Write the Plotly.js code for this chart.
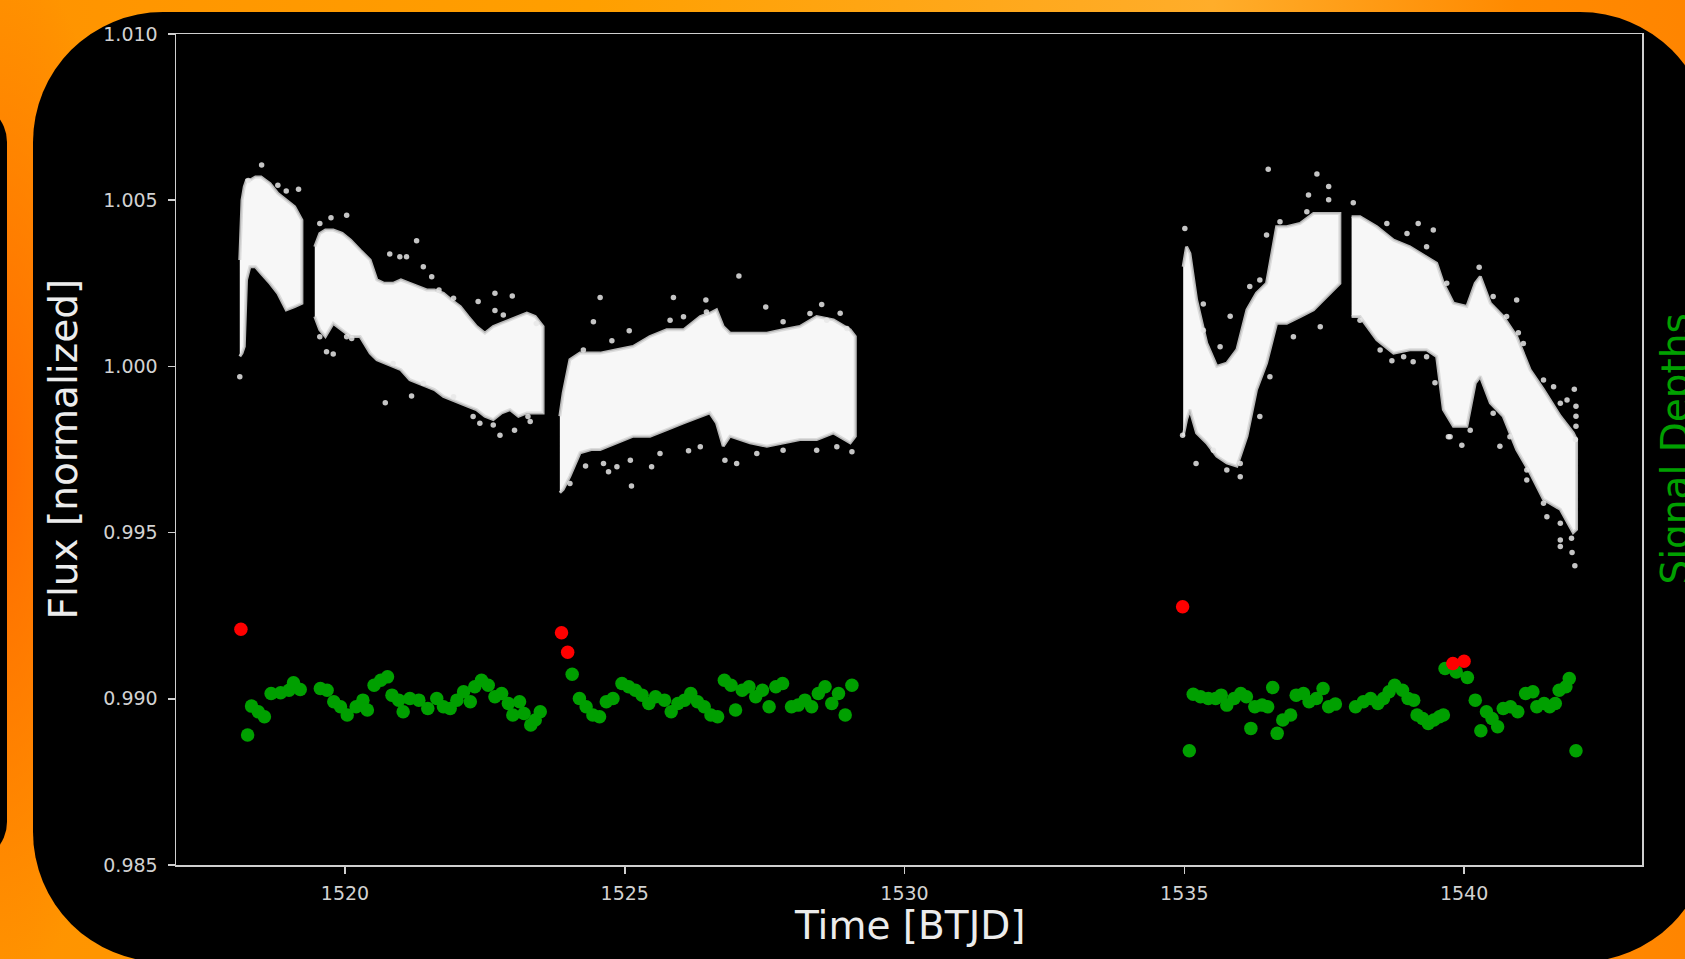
<!DOCTYPE html>
<html>
<head>
<meta charset="utf-8">
<script src="https://cdn.plot.ly/plotly-3.0.1.min.js"></script>
<style>
  html, body { margin:0; padding:0; }
  body {
    width:1685px; height:959px; overflow:hidden; position:relative;
    background:
      radial-gradient(ellipse 140px 520px at 0px 470px, #ff6c00, rgba(255,108,0,0)),
      linear-gradient(90deg, #ff9300 0%, #ff9f00 35%, #ffad2a 72%, #ff8a00 90%, #ff8500 100%);
  }
  #leftstrip { position:absolute; left:-100px; top:102px; width:107px; height:760px; background:#000; border-radius:40px; }
  #panel { position:absolute; left:33px; top:12px; width:1677px; height:950px; background:#000; border-radius:130px; }
  #chart { position:absolute; left:0; top:0; width:1685px; height:959px; }
</style>
</head>
<body>
<div id="leftstrip"></div>
<div id="panel"></div>
<div id="chart"></div>
<script>
// ---------- light-curve envelope per observing segment ----------
const seg1Time  = [1518.12, 1518.16, 1518.20, 1518.24, 1518.30, 1518.40, 1518.50, 1518.66, 1518.80, 1518.95, 1519.10, 1519.23];
const seg1Upper = [1.0032, 1.0050, 1.0054, 1.0056, 1.0056, 1.0057, 1.0057, 1.0055, 1.0052, 1.0050, 1.0048, 1.0044];
const seg1Lower = [1.0003, 1.0004, 1.0006, 1.0026, 1.0030, 1.0030, 1.0028, 1.0025, 1.0022, 1.0017, 1.0018, 1.0019];

const seg2Time  = [1519.46, 1519.55, 1519.65, 1519.79, 1519.95, 1520.10, 1520.27, 1520.45, 1520.57, 1520.70, 1520.86, 1521.00, 1521.16, 1521.30, 1521.46, 1521.60, 1521.76, 1521.90, 1522.06, 1522.20, 1522.35, 1522.50, 1522.65, 1522.80, 1522.95, 1523.10, 1523.25, 1523.40, 1523.54];
const seg2Upper = [1.0036, 1.0040, 1.0041, 1.0041, 1.0040, 1.0038, 1.0035, 1.0032, 1.0026, 1.0025, 1.0025, 1.0026, 1.0025, 1.0024, 1.0023, 1.0023, 1.0022, 1.0020, 1.0018, 1.0015, 1.0012, 1.0010, 1.0012, 1.0013, 1.0014, 1.0015, 1.0016, 1.0015, 1.0012];
const seg2Lower = [1.0015, 1.0011, 1.0009, 1.0013, 1.0011, 1.0009, 1.0009, 1.0004, 1.0002, 1.0001, 1.0000, 0.9999, 0.9996, 0.9995, 0.9994, 0.9993, 0.9991, 0.9990, 0.9989, 0.9988, 0.9987, 0.9985, 0.9984, 0.9986, 0.9987, 0.9985, 0.9986, 0.9986, 0.9986];

const seg3Time  = [1523.84, 1523.90, 1524.02, 1524.20, 1524.40, 1524.56, 1524.86, 1525.15, 1525.45, 1525.75, 1526.05, 1526.35, 1526.52, 1526.64, 1526.76, 1526.88, 1527.05, 1527.24, 1527.54, 1527.83, 1528.13, 1528.43, 1528.73, 1529.03, 1529.12];
const seg3Upper = [0.9985, 0.9992, 1.0002, 1.0004, 1.0004, 1.0004, 1.0005, 1.0006, 1.0009, 1.0011, 1.0011, 1.0015, 1.0016, 1.0017, 1.0012, 1.0010, 1.0010, 1.0010, 1.0010, 1.0011, 1.0012, 1.0015, 1.0014, 1.0011, 1.0009];
const seg3Lower = [0.9962, 0.9963, 0.9967, 0.9974, 0.9975, 0.9975, 0.9977, 0.9979, 0.9979, 0.9981, 0.9983, 0.9985, 0.9986, 0.9983, 0.9976, 0.9979, 0.9978, 0.9977, 0.9976, 0.9977, 0.9978, 0.9978, 0.9980, 0.9977, 0.9979];

const seg4Time  = [1534.98, 1535.04, 1535.10, 1535.22, 1535.40, 1535.58, 1535.76, 1535.94, 1536.12, 1536.29, 1536.47, 1536.65, 1536.83, 1537.07, 1537.31, 1537.55, 1537.78];
const seg4Upper = [1.0030, 1.0036, 1.0034, 1.0020, 1.0007, 1.0000, 1.0001, 1.0005, 1.0017, 1.0022, 1.0025, 1.0042, 1.0042, 1.0043, 1.0046, 1.0046, 1.0046];
const seg4Lower = [0.9979, 0.9984, 0.9987, 0.9980, 0.9977, 0.9973, 0.9971, 0.9970, 0.9979, 0.9993, 1.0001, 1.0013, 1.0013, 1.0015, 1.0017, 1.0021, 1.0025];

const seg5Time  = [1537.99, 1538.14, 1538.44, 1538.74, 1539.03, 1539.33, 1539.51, 1539.63, 1539.81, 1540.05, 1540.20, 1540.29, 1540.47, 1540.70, 1540.94, 1541.18, 1541.42, 1541.72, 1541.95, 1542.01];
const seg5Upper = [1.0045, 1.0045, 1.0042, 1.0038, 1.0036, 1.0033, 1.0031, 1.0025, 1.0019, 1.0018, 1.0025, 1.0027, 1.0019, 1.0015, 1.0009, 0.9999, 0.9993, 0.9985, 0.9980, 0.9978];
const seg5Lower = [1.0015, 1.0015, 1.0008, 1.0004, 1.0005, 1.0005, 1.0003, 0.9987, 0.9982, 0.9982, 0.9995, 0.9997, 0.9989, 0.9985, 0.9975, 0.9968, 0.9960, 0.9957, 0.9950, 0.9951];

// ---------- scattered flux points around the dense band ----------
const outlierTime = [1518.51, 1519.17, 1518.27, 1518.12, 1518.95, 1518.80,
  1519.55, 1519.75, 1520.03, 1521.28, 1520.80, 1519.67, 1519.79, 1522.38, 1522.68, 1522.99, 1522.68, 1522.83, 1520.72, 1521.19, 1522.77, 1523.03, 1523.31, 1520.12, 1521.68, 1521.40, 1521.10,
  1520.98, 1521.55, 1521.94, 1523.42, 1520.86, 1521.40, 1521.94, 1522.29, 1522.41, 1522.65, 1523.27, 1519.55, 1520.03,
  1527.04, 1524.56, 1525.87, 1526.45, 1527.52, 1528.52, 1524.44, 1525.08, 1524.77, 1525.12, 1525.48, 1526.14, 1526.79, 1529.06, 1524.71, 1528.85, 1524.30,
  1524.26, 1525.81, 1526.05, 1526.46, 1527.83, 1528.31, 1528.61, 1528.97, 1524.02, 1524.62, 1524.86, 1525.10, 1525.63, 1526.35, 1527.00, 1527.36, 1527.83, 1528.43, 1528.79,
  1536.50, 1537.37, 1537.58, 1537.22, 1535.01, 1536.47, 1537.58, 1535.34, 1535.82, 1536.35, 1535.21, 1536.00, 1534.97,
  1535.34, 1535.64, 1536.17, 1536.35, 1536.71, 1537.19, 1535.52, 1535.76, 1536.00, 1536.53, 1536.95, 1537.43,
  1538.02, 1539.18, 1539.45, 1540.27, 1540.94, 1540.97, 1541.60, 1541.97, 1541.84, 1538.71, 1539.09, 1539.48, 1539.72, 1539.96, 1540.64, 1541.12, 1541.48, 1541.72, 1541.92, 1541.72, 1541.98, 1541.93, 1542.00, 1542.00, 1542.00, 1541.99,
  1538.14, 1538.50, 1538.92, 1539.33, 1539.75, 1540.11, 1540.52, 1540.82, 1541.12, 1541.42, 1541.72, 1538.62, 1538.98, 1539.33, 1539.69, 1540.52, 1540.76, 1541.06, 1541.42, 1541.72];
const outlierFlux = [1.00606, 1.00533, 1.00559, 0.99969, 1.00528, 1.00545,
  1.00430, 1.00447, 1.00455, 1.00378, 1.00338, 1.00044, 1.00037, 1.00195, 1.00220, 1.00212, 1.00168, 1.00155, 0.99891, 0.99911, 0.99793, 0.99808, 0.99834, 1.00084, 1.00230, 1.00300, 1.00330,
  1.00330, 1.00270, 1.00205, 1.00129, 1.00009, 0.99949, 0.99909, 0.99849, 0.99829, 0.99824, 0.99849, 1.00089, 1.00089,
  1.00272, 1.00207, 1.00207, 1.00200, 1.00179, 1.00186, 1.00134, 1.00107, 1.00077, 0.99640, 0.99698, 0.99746, 0.99718, 0.99743, 0.99683, 1.00160, 0.99700,
  1.00049, 1.00139, 1.00149, 1.00164, 1.00134, 1.00159, 1.00139, 1.00114, 0.99648, 0.99708, 0.99698, 0.99718, 0.99738, 0.99758, 0.99708, 0.99738, 0.99748, 0.99748, 0.99758,
  1.00593, 1.00579, 1.00541, 1.00516, 1.00415, 1.00395, 1.00501, 1.00188, 1.00151, 0.99849, 0.99708, 0.99668, 0.99793,
  1.00109, 1.00059, 1.00240, 1.00260, 1.00435, 1.00465, 0.99748, 0.99688, 0.99708, 0.99969, 1.00089, 1.00119,
  1.00492, 1.00430, 1.00410, 1.00298, 1.00200, 1.00101, 0.99939, 0.99931, 0.99899, 1.00017, 1.00014, 0.99951, 0.99788, 0.99763, 0.99760, 0.99658, 0.99548, 0.99478, 0.99483, 0.99458, 0.99400, 0.99440, 0.99880, 0.99850, 0.99820, 0.99780,
  1.00139, 1.00049, 1.00029, 1.00029, 0.99788, 0.99808, 0.99859, 0.99788, 0.99688, 0.99588, 0.99528, 1.00430, 1.00400, 1.00360, 1.00250, 1.00210, 1.00150, 1.00069, 0.99959, 0.99889];

// ---------- signal depths (green) and flagged signals (red) ----------
const signalTime = [
  1518.26, 1518.33, 1518.45, 1518.56, 1518.68, 1518.85, 1519.00, 1519.08, 1519.20, 1519.56, 1519.68, 1519.80, 1519.92, 1520.04, 1520.20, 1520.32, 1520.40, 1520.52, 1520.64, 1520.76, 1520.84, 1520.96, 1521.04, 1521.16, 1521.32, 1521.48, 1521.64, 1521.76, 1521.88, 1522.00, 1522.12, 1522.24, 1522.32, 1522.44, 1522.56, 1522.68, 1522.80, 1522.92, 1523.00, 1523.12, 1523.20, 1523.32, 1523.40, 1523.49,
  1524.06, 1524.19, 1524.31, 1524.43, 1524.55, 1524.67, 1524.79, 1524.95, 1525.07, 1525.19, 1525.31, 1525.43, 1525.55, 1525.71, 1525.83, 1525.95, 1526.07, 1526.18, 1526.30, 1526.42, 1526.54, 1526.66, 1526.78, 1526.90, 1526.98, 1527.10, 1527.22, 1527.34, 1527.46, 1527.58, 1527.70, 1527.82, 1527.98, 1528.10, 1528.22, 1528.34, 1528.46, 1528.58, 1528.70, 1528.82, 1528.94, 1529.06,
  1535.09, 1535.16, 1535.29, 1535.43, 1535.56, 1535.66, 1535.76, 1535.89, 1536.01, 1536.11, 1536.19, 1536.26, 1536.39, 1536.49, 1536.58, 1536.66, 1536.76, 1536.90, 1537.00, 1537.13, 1537.23, 1537.36, 1537.48, 1537.58, 1537.70,
  1538.06, 1538.20, 1538.33, 1538.46, 1538.56, 1538.66, 1538.76, 1538.90, 1539.00, 1539.10, 1539.16, 1539.26, 1539.36, 1539.46, 1539.56, 1539.63, 1539.66, 1539.86, 1540.06, 1540.20, 1540.30, 1540.40, 1540.50, 1540.60, 1540.70, 1540.83, 1540.96, 1541.10, 1541.23, 1541.30, 1541.43, 1541.53, 1541.63, 1541.70, 1541.82, 1541.88, 1542.00];
const signalDepth = [
  0.98891, 0.98978, 0.98961, 0.98946, 0.99016, 0.99018, 0.99026, 0.99048, 0.99028, 0.99031, 0.99026, 0.98991, 0.98976, 0.98951, 0.98976, 0.98996, 0.98966, 0.99041, 0.99056, 0.99066, 0.99011, 0.98996, 0.98961, 0.99001, 0.98996, 0.98971, 0.99001, 0.98976, 0.98971, 0.98996, 0.99021, 0.98991, 0.99036, 0.99056, 0.99041, 0.99006, 0.99016, 0.98986, 0.98951, 0.98991, 0.98956, 0.98921, 0.98936, 0.98961,
  0.99074, 0.99001, 0.98976, 0.98951, 0.98946, 0.98991, 0.99001, 0.99046, 0.99036, 0.99026, 0.99011, 0.98986, 0.99006, 0.98996, 0.98961, 0.98986, 0.98996, 0.99016, 0.98991, 0.98976, 0.98951, 0.98946, 0.99056, 0.99041, 0.98966, 0.99026, 0.99036, 0.99006, 0.99026, 0.98976, 0.99036, 0.99046, 0.98976, 0.98981, 0.98996, 0.98976, 0.99016, 0.99036, 0.98986, 0.99016, 0.98951, 0.99041,
  0.98844, 0.99014, 0.99006, 0.99001, 0.99001, 0.99011, 0.98981, 0.99001, 0.99016, 0.99006, 0.98911, 0.98976, 0.98981, 0.98976, 0.99034, 0.98896, 0.98936, 0.98951, 0.99011, 0.99016, 0.98991, 0.99001, 0.99031, 0.98976, 0.98984,
  0.98976, 0.98991, 0.99001, 0.98986, 0.99001, 0.99021, 0.99041, 0.99026, 0.99001, 0.98996, 0.98951, 0.98941, 0.98926, 0.98936, 0.98946, 0.98951, 0.99091, 0.99081, 0.99064, 0.98996, 0.98904, 0.98961, 0.98941, 0.98916, 0.98971, 0.98976, 0.98961, 0.99016, 0.99021, 0.98976, 0.98986, 0.98976, 0.98986, 0.99026, 0.99036, 0.99061, 0.98844];

const flaggedTime  = [1518.14, 1523.87, 1523.98, 1534.97, 1539.80, 1540.00];
const flaggedDepth = [0.99209, 0.99199, 0.99140, 0.99277, 0.99106, 0.99113];

// ---------- axis ticks ----------
const xTickValues = [1520, 1525, 1530, 1535, 1540];
const xTickLabels = ['1520', '1525', '1530', '1535', '1540'];
const yTickValues = [0.985, 0.990, 0.995, 1.000, 1.005, 1.010];
const yTickLabels = ['0.985', '0.990', '0.995', '1.000', '1.005', '1.010'];

// ---------- build traces ----------
function band(t, hi, lo) {
  return {
    x: t.concat(t.slice().reverse()),
    y: hi.concat(lo.slice().reverse()),
    type: 'scatter', mode: 'lines', fill: 'toself',
    fillcolor: 'rgba(255,255,255,0.97)',
    line: { color: 'rgba(215,215,215,0.85)', width: 3 },
    hoverinfo: 'skip', showlegend: false
  };
}
const traces = [
  band(seg1Time, seg1Upper, seg1Lower),
  band(seg2Time, seg2Upper, seg2Lower),
  band(seg3Time, seg3Upper, seg3Lower),
  band(seg4Time, seg4Upper, seg4Lower),
  band(seg5Time, seg5Upper, seg5Lower),
  { x: outlierTime, y: outlierFlux, type: 'scatter', mode: 'markers',
    marker: { color: 'rgba(232,232,232,0.85)', size: 5.5 }, showlegend: false, name: 'Flux' },
  { x: signalTime, y: signalDepth, type: 'scatter', mode: 'markers', yaxis: 'y2',
    marker: { color: '#00a000', size: 13.5 }, showlegend: false, name: 'Signal Depths' },
  { x: flaggedTime, y: flaggedDepth, type: 'scatter', mode: 'markers', yaxis: 'y2',
    marker: { color: '#ff0000', size: 13.5 }, showlegend: false, name: 'Flagged' }
];

const axisCommon = {
  showline: true, linecolor: '#cfcfcf', linewidth: 1.5, mirror: true,
  ticks: 'outside', ticklen: 7, tickwidth: 1.5, tickcolor: '#cfcfcf',
  showgrid: false, zeroline: false,
  tickfont: { family: 'DejaVu Sans', size: 19, color: '#d2d2d2' }
};

const layout = {
  width: 1685, height: 959,
  margin: { l: 176, r: 43, t: 34, b: 94, pad: 0 },
  paper_bgcolor: 'rgba(0,0,0,0)', plot_bgcolor: '#000000',
  font: { family: 'DejaVu Sans', color: '#ffffff' },
  showlegend: false,
  xaxis: Object.assign({}, axisCommon, {
    range: [1516.98, 1543.18], tickmode: 'array', tickvals: xTickValues, ticktext: xTickLabels,
    ticklabelstandoff: 4
  }),
  yaxis: Object.assign({}, axisCommon, {
    range: [0.985, 1.010], tickmode: 'array', tickvals: yTickValues, ticktext: yTickLabels,
    ticklabelstandoff: 6
  }),
  yaxis2: {
    overlaying: 'y', side: 'right', range: [0.985, 1.010],
    showticklabels: false, ticks: '', showgrid: false, zeroline: false, showline: false
  },
  annotations: [
    { text: 'Time [BTJD]', xref: 'paper', yref: 'paper', x: 0.5, y: 0, xanchor: 'center', yanchor: 'middle',
      yshift: -60, showarrow: false, font: { family: 'DejaVu Sans', size: 39, color: '#ececec' } },
    { text: 'Flux [normalized]', xref: 'paper', yref: 'paper', x: 0, y: 0.5, xanchor: 'center', yanchor: 'middle',
      xshift: -113, textangle: -90, showarrow: false, font: { family: 'DejaVu Sans', size: 39, color: '#ececec' } },
    { text: 'Signal Depths', xref: 'paper', yref: 'paper', x: 1, y: 0.5, xanchor: 'center', yanchor: 'middle',
      xshift: 33, textangle: -90, showarrow: false, font: { family: 'DejaVu Sans', size: 39, color: '#00a000' } }
  ]
};

Plotly.newPlot('chart', traces, layout, { displayModeBar: false, staticPlot: true });
</script>
</body>
</html>
